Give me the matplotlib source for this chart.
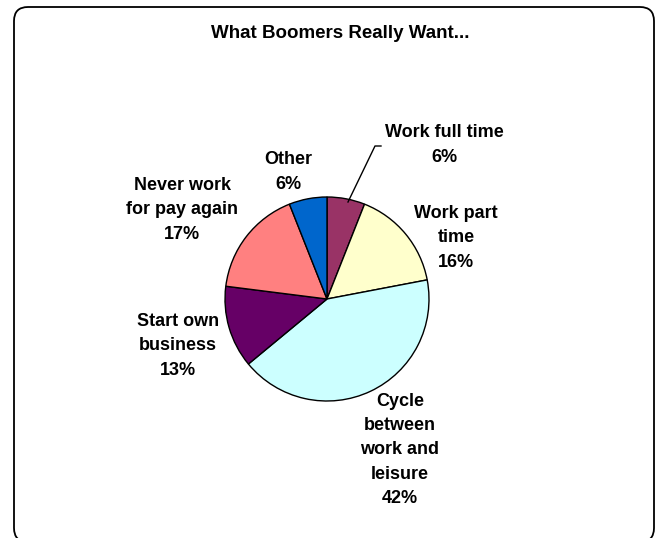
import matplotlib
matplotlib.use("Agg")
import matplotlib.pyplot as plt
from matplotlib.patches import FancyBboxPatch

plt.rcParams['font.family'] = ['Liberation Sans', 'DejaVu Sans']

title = "What Boomers Really Want..."
categories = ["Work full time", "Work part\ntime", "Cycle\nbetween\nwork and\nleisure",
              "Start own\nbusiness", "Never work\nfor pay again", "Other"]
values = [6, 16, 42, 13, 17, 6]
colors = ["#993366", "#FFFFCC", "#CCFFFF", "#660066", "#FF8080", "#0066CC"]

# label anchor positions (pixels from top-left)
label_pos = [(444, 145), (456, 238), (400, 450), (178, 346), (182, 210), (288, 172)]

W, H = 659, 538
fig = plt.figure(figsize=(W / 100, H / 100), dpi=100)
ax = fig.add_axes([0, 0, 1, 1])
ax.set_xlim(0, W)
ax.set_ylim(0, H)
ax.axis('off')

border = FancyBboxPatch((14, -4), 640, 535, boxstyle="round,pad=0,rounding_size=14",
                        fill=False, edgecolor='black', linewidth=1.3)
ax.add_patch(border)

cx, cy, r = 327, H - 299, 102
ax.pie(values, colors=colors, startangle=90, counterclock=False,
       center=(cx, cy), radius=r, frame=True,
       wedgeprops=dict(edgecolor='black', linewidth=1.0))
ax.set_xlim(0, W)
ax.set_ylim(0, H)
ax.axis('off')

for cat, v, (x, y) in zip(categories, values, label_pos):
    ax.text(x, H - y, f"{cat}\n{v}%", ha='center', va='center', fontsize=13,
            fontweight='bold', linespacing=1.55)

# leader line for "Work full time"
ax.plot([348, 375, 381], [H - 202, H - 146, H - 146], color='black', linewidth=1.0)

ax.text(340, H - 33, title, ha='center', va='center', fontsize=13.5, fontweight='bold')

fig.savefig("out.png", dpi=100)
